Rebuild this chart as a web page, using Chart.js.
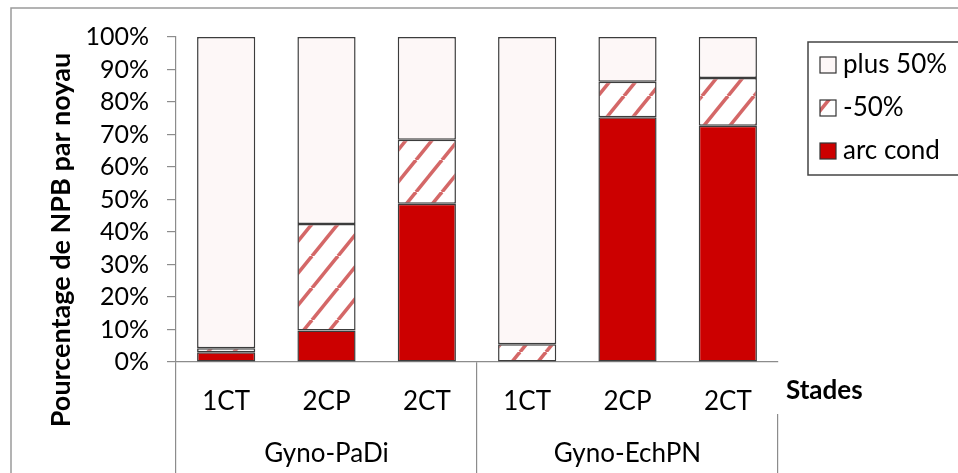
<!DOCTYPE html>
<html>
<head>
<meta charset="utf-8">
<script src="https://cdn.jsdelivr.net/npm/chart.js@4.4.1/dist/chart.umd.min.js"></script>
<style>
  body { margin: 0; background: #fff; }
  canvas { display: block; }
</style>
</head>
<body>
<canvas id="npbChart" width="958" height="473"></canvas>
<script>
// data (100% stacked)
const stades = ['1CT', '2CP', '2CT', '1CT', '2CP', '2CT'];
const groupes = ['Gyno-PaDi', 'Gyno-EchPN'];
const arcCond = [3.0, 9.7, 48.7, 0, 75.3, 72.7];
const moins50 = [1.2, 32.8, 19.7, 5.5, 10.9, 14.7];
const plus50 = [95.8, 57.5, 31.6, 94.5, 13.8, 12.6];
const yTicks = [0, 10, 20, 30, 40, 50, 60, 70, 80, 90, 100];

const FONT = 'Lato, "Noto Sans", sans-serif';
const axisGray = '#8c8c8c';
const barBorder = '#3c3c3c';

// diagonal hatch for the "-50%" series
function makeHatch() {
    const w = 26, h = 32;
    const c = document.createElement('canvas');
    c.width = w; c.height = h;
    const g = c.getContext('2d');
    g.fillStyle = '#ffffff';
    g.fillRect(0, 0, w, h);
    g.strokeStyle = 'rgba(200, 60, 60, 0.78)';
    g.lineWidth = 3.6;
    // main stroke plus the two neighbours that touch the corners
    [[0, h, w, 0], [-w, h, 0, 0], [w, h, 2 * w, 0]].forEach(l => {
        g.beginPath();
        g.moveTo(l[0], l[1]);
        g.lineTo(l[2], l[3]);
        g.stroke();
    });
    return g.createPattern(c, 'repeat');
}
const hatch = makeHatch();

// frame, axis title, "Stades" and the boxed legend
const extras = {
    id: 'extras',
    beforeDraw(chart) {
        const ctx = chart.ctx;
        ctx.save();
        ctx.strokeStyle = '#9a9a9a';
        ctx.lineWidth = 1.5;
        ctx.beginPath();
        ctx.moveTo(11, chart.height);
        ctx.lineTo(11, 8);
        ctx.lineTo(chart.width, 8);
        ctx.stroke();
        ctx.restore();
    },
    afterDraw(chart) {
        const ctx = chart.ctx;
        ctx.save();
        ctx.fillStyle = '#000';
        ctx.font = 'bold 27px ' + FONT;
        ctx.textAlign = 'center';
        ctx.textBaseline = 'middle';
        ctx.translate(61, 240);
        ctx.rotate(-Math.PI / 2);
        ctx.fillText('Pourcentage de NPB par noyau', 0, 0);
        ctx.restore();

        ctx.save();
        ctx.fillStyle = '#000';
        ctx.font = 'bold 26px ' + FONT;
        ctx.textBaseline = 'middle';
        ctx.fillText('Stades', 786, 391);
        ctx.restore();

        // legend box
        ctx.save();
        ctx.strokeStyle = '#444';
        ctx.lineWidth = 1.5;
        ctx.strokeRect(808, 42, 160, 133);
        const sets = chart.data.datasets.slice().reverse();
        ctx.font = '26px ' + FONT;
        ctx.textBaseline = 'middle';
        sets.forEach((ds, i) => {
            const y = 65 + i * 43;
            ctx.fillStyle = ds.backgroundColor;
            ctx.fillRect(820, y - 8, 16, 16);
            ctx.strokeStyle = '#333';
            ctx.lineWidth = 1.2;
            ctx.strokeRect(820, y - 8, 16, 16);
            ctx.fillStyle = '#000';
            ctx.fillText(ds.label, 843, y);
        });
        ctx.restore();
    }
};

const ctx = document.getElementById('npbChart').getContext('2d');
new Chart(ctx, {
    type: 'bar',
    data: {
        labels: stades,
        datasets: [
            { label: 'arc cond', data: arcCond, backgroundColor: '#cc0000' },
            { label: '-50%', data: moins50, backgroundColor: hatch },
            { label: 'plus 50%', data: plus50, backgroundColor: '#fdf7f7' }
        ].map(d => Object.assign(d, {
            borderColor: barBorder,
            borderWidth: 1.5,
            borderSkipped: false,
            categoryPercentage: 1,
            barPercentage: 0.58
        }))
    },
    options: {
        responsive: false,
        animation: false,
        layout: { padding: { left: 0, right: 180, top: 37, bottom: 0 } },
        plugins: {
            legend: { display: false },
            tooltip: { enabled: false }
        },
        scales: {
            x: {
                stacked: true,
                offset: true,
                grid: {
                    offset: true,
                    drawOnChartArea: false,
                    tickLength: 52,
                    lineWidth: 1.2,
                    color: c => (c.index % 3 === 0 ? axisGray : 'rgba(0,0,0,0)')
                },
                border: { color: axisGray, width: 1.2 },
                ticks: { color: '#000', font: { family: FONT, size: 26 }, padding: -28 },
                afterFit: s => { s.height = 52; }
            },
            x2: {
                type: 'category',
                labels: groupes,
                position: 'bottom',
                offset: true,
                grid: {
                    offset: true,
                    drawOnChartArea: false,
                    tickLength: 59,
                    lineWidth: 1.2,
                    color: axisGray
                },
                border: { display: false },
                ticks: { color: '#000', font: { family: FONT, size: 26 }, padding: -35 },
                afterFit: s => { s.height = 59; }
            },
            y: {
                stacked: true,
                min: 0,
                max: 100,
                afterBuildTicks: s => { s.ticks = yTicks.map(v => ({ value: v })); },
                grid: { drawOnChartArea: false, tickLength: 9, color: axisGray, lineWidth: 1.2 },
                border: { color: axisGray, width: 1.2 },
                ticks: {
                    color: '#000',
                    font: { family: FONT, size: 25 },
                    padding: 18,
                    autoSkip: false,
                    callback: v => v + '%'
                },
                afterFit: s => { s.width = 176; }
            }
        }
    },
    plugins: [extras]
});
</script>
</body>
</html>
